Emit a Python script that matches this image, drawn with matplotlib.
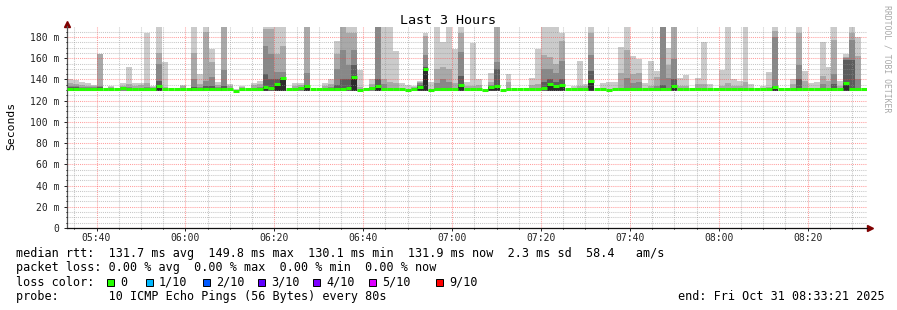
import matplotlib
matplotlib.use("Agg")
import matplotlib.pyplot as plt
from matplotlib.patches import Rectangle
import numpy as np

# one rrd step = 80 s, x axis in minutes after 05:33:21
STEP_MIN = 80 / 60
FIRST_LABEL = 6 + 39 / 60

time_labels = ["05:40", "06:00", "06:20", "06:40", "07:00", "07:20", "07:40", "08:00", "08:20"]
y_values = [0, 20, 40, 60, 80, 100, 120, 140, 160, 180]
y_labels = ["0", "20 m", "40 m", "60 m", "80 m", "100 m", "120 m", "140 m", "160 m", "180 m"]

# median rtt per step (ms)
median = [
    131, 131, 131, 131, 131, 131, 131, 131, 131, 131.5,
    131, 131, 131, 131, 131, 133.5, 131, 131, 131, 131,
    131, 131, 131, 131, 131, 131, 131, 131, 129.5, 131,
    131, 131, 131, 133, 132, 135.5, 141, 131, 131, 131.5,
    133.5, 131, 131, 131, 131, 131, 131, 131.5, 142, 130.5,
    131, 132, 133.5, 131, 131, 131, 131, 130, 131, 133,
    150, 130, 131, 131, 131, 131, 134.5, 131, 131, 131,
    130, 133, 133.5, 130, 131, 131, 131, 131, 131, 131,
    131.5, 136, 133.5, 134.5, 131, 131, 131, 131, 138.5, 131,
    131, 130, 131, 131, 131, 131, 131, 131, 131, 131,
    131, 131, 134, 131, 131, 131, 131, 131, 131, 131,
    131, 131, 131, 131, 131, 131, 131, 131, 131, 133,
    131, 131, 131, 131, 131, 131, 131, 131, 131, 131,
    131, 137, 131, 131, 131,
]

# smoke: top of each shade band (outer / lightest first), 0 = no band
smoke_1 = [
    140, 139.5, 138, 137, 135, 164, 0, 134, 0, 137,
    152, 137, 137, 184, 134, 189, 156, 0, 0, 135,
    0, 189, 145, 189, 169, 138, 189, 136, 131, 134,
    0, 137, 139, 189, 189, 189, 189, 0, 137, 137,
    189, 0, 0, 137, 140, 176, 189, 189, 189, 149,
    0, 140, 189, 189, 189, 167, 137, 135, 134, 139,
    184, 138, 189, 175, 189, 169, 189, 138, 174, 140,
    0, 146, 189, 0, 145, 0, 0, 0, 141, 169,
    189, 189, 189, 184, 0, 134, 157, 136, 189, 0,
    137, 138, 138, 171, 189, 162, 159, 137, 157, 148,
    189, 170, 189, 141, 144, 0, 141, 175, 136, 0,
    149, 189, 140, 139, 189, 136, 0, 134, 147, 189,
    0, 0, 140, 189, 148, 137, 138, 175, 152, 189,
    138.5, 164, 189, 180, 0,
]
smoke_2 = [
    137, 136, 135, 134, 134, 164, 0, 133, 0, 134,
    136, 134, 135, 137, 133, 165, 133, 0, 0, 134,
    0, 165, 136, 185, 156, 135, 189, 134, 130, 133,
    0, 135, 136, 188, 188, 164, 172, 0, 134, 135,
    189, 0, 0, 134, 136, 164, 189, 184, 184, 133,
    0, 136, 189, 140, 138, 137, 0, 0, 133, 138,
    181, 0, 150, 152, 150, 137, 184, 134, 134, 135,
    0, 138, 189, 0, 138, 0, 0, 0, 135, 136,
    163, 161, 155, 176, 0, 0, 134, 134, 184, 0,
    0, 0, 0, 146, 168, 145, 146, 0, 134, 142,
    189, 154, 189, 134, 134, 0, 136, 136, 0, 0,
    134, 137, 134, 134, 138, 0, 0, 0, 133, 186,
    0, 0, 136, 184, 139, 0, 0, 143, 139, 177,
    134, 161, 184, 162, 0,
]
smoke_3 = [
    134, 134, 133, 133, 133, 134, 0, 0, 0, 133,
    133, 0, 0, 133, 132, 155, 0, 0, 0, 0,
    0, 140, 133, 139, 142, 133, 149, 0, 0, 0,
    0, 0, 133, 172, 164, 147, 147, 0, 0, 133,
    146, 0, 0, 0, 133, 150, 168, 154, 168, 0,
    0, 133, 189, 136, 0, 0, 0, 0, 0, 137,
    163, 0, 137, 140, 138, 0, 166, 0, 0, 0,
    0, 135, 156, 0, 0, 0, 0, 0, 0, 0,
    150, 150, 146, 157, 0, 0, 0, 0, 163, 0,
    0, 0, 0, 0, 141, 137, 138, 0, 0, 134,
    189, 141, 159, 0, 0, 0, 0, 0, 0, 0,
    0, 0, 0, 0, 0, 0, 0, 0, 0, 180,
    0, 0, 0, 154, 0, 0, 0, 136, 0, 145,
    0, 160, 177, 140, 0,
]
smoke_4 = [
    133, 133, 0, 0, 0, 133, 0, 0, 0, 0,
    0, 0, 0, 0, 0, 139, 0, 0, 0, 0,
    0, 133, 0, 134, 134, 0, 134, 0, 0, 0,
    0, 0, 0, 145, 140, 140, 141, 0, 0, 0,
    135, 0, 0, 0, 0, 135, 140, 140, 154, 0,
    0, 0, 140, 0, 0, 0, 0, 0, 0, 135,
    152, 0, 0, 0, 0, 0, 143, 0, 0, 0,
    0, 0, 150, 0, 0, 0, 0, 0, 0, 0,
    138, 140, 138, 140, 0, 0, 0, 0, 148, 0,
    0, 0, 0, 0, 0, 0, 0, 0, 0, 0,
    135, 0, 140, 0, 0, 0, 0, 0, 0, 0,
    0, 0, 0, 0, 0, 0, 0, 0, 0, 134,
    0, 0, 0, 140, 0, 0, 0, 0, 0, 136,
    0, 158, 158, 0, 0,
]

stats_lines = [
    "median rtt:  131.7 ms avg  149.8 ms max  130.1 ms min  131.9 ms now  2.3 ms sd  58.4   am/s",
    "packet loss: 0.00 % avg  0.00 % max  0.00 % min  0.00 % now",
]
loss_labels = ["0", "1/10", "2/10", "3/10", "4/10", "5/10", "9/10"]
loss_colors = ["#26ff00", "#00b8ff", "#0059ff", "#5e00ff", "#7e00ff", "#dd00ff", "#ff0000"]
probe_text = "probe:       10 ICMP Echo Pings (56 Bytes) every 80s"
end_text = "end: Fri Oct 31 08:33:21 2025"

W, H = 897, 310
MONO = "DejaVu Sans Mono"
plt.rcParams["font.family"] = MONO

fig = plt.figure(figsize=(W / 100, H / 100), dpi=100)
ax = fig.add_axes([67 / W, 82 / H, 800 / W, 202 / H])

x = np.arange(len(median)) * STEP_MIN
base = 129.5
shades = ["#cbcbcb", "#a9a9a9", "#888888", "#5c5c5c"]
for band, col in zip([smoke_1, smoke_2, smoke_3, smoke_4], shades):
    v = np.array(band, dtype=float)
    h = np.where(v > base, v - base, 0)
    ax.bar(x, h, width=STEP_MIN, bottom=base, align="edge", color=col, linewidth=0, zorder=1)

med = np.array(median, dtype=float)
core = np.where(med >= 133, med - base, 0)
ax.bar(x, core, width=STEP_MIN, bottom=base, align="edge", color="#2b2b2b", linewidth=0, zorder=1.2)
ax.hlines(med, x, x + STEP_MIN, colors=loss_colors[0], linewidth=2.2, zorder=3)

ax.set_xlim(0, 180)
ax.set_ylim(0, 190.4)

major_x = [FIRST_LABEL + 20 * i for i in range(len(time_labels))]
minor_x = [FIRST_LABEL - 5 + 5 * i for i in range(37) if (i - 1) % 4 != 0]
ax.set_xticks(major_x)
ax.set_xticklabels(time_labels)
ax.set_xticks([m for m in minor_x if 0 <= m <= 180], minor=True)
ax.set_yticks(y_values)
ax.set_yticklabels(y_labels)
ax.set_yticks([v for v in range(5, 190, 5) if v % 20], minor=True)

# rrdtool draws its grid over the graph, semi transparent
ax.grid(which="major", color="#ff4040", alpha=0.5, linestyle=(0, (1, 1)), linewidth=0.75)
ax.grid(which="minor", color="#909090", alpha=0.5, linestyle=(0, (1, 1)), linewidth=0.75)
ax.set_axisbelow(False)

ax.tick_params(which="major", length=2.5, width=0.7, labelsize=7, pad=3, colors="#222222")
ax.tick_params(which="minor", length=1.0, width=0.7)
ax.tick_params(axis="x", pad=1)
for s in ["top", "right"]:
    ax.spines[s].set_visible(False)
ax.spines["left"].set_color("#555555")
ax.spines["bottom"].set_color("#111111")
ax.spines["left"].set_linewidth(0.9)
ax.spines["bottom"].set_linewidth(0.9)

# axis arrows
ax.plot([0], [1.012], marker="^", color="#800000", markersize=4.5, transform=ax.transAxes, clip_on=False)
ax.plot([1.004], [0], marker=">", color="#800000", markersize=4.5, transform=ax.transAxes, clip_on=False)

fig.text(448 / W, 1 - 20 / H, "Last 3 Hours", ha="center", va="center", fontsize=9.6)
fig.text(11 / W, 1 - 126 / H, "Seconds", ha="center", va="center", rotation=90, fontsize=8.2)
fig.text(887 / W, 1 - 59 / H, "RRDTOOL / TOBI OETIKER", ha="center", va="center",
         rotation=270, fontsize=5.9, color="#a8a8a8")

fs = 8.5
fig.text(16 / W, 1 - 254 / H, stats_lines[0], ha="left", va="center", fontsize=fs)
fig.text(16 / W, 1 - 268 / H, stats_lines[1], ha="left", va="center", fontsize=fs)
fig.text(16 / W, 1 - 282 / H, "loss color:", ha="left", va="center", fontsize=fs)
swatch_x = [107, 146, 203, 258, 313, 369, 436]
for sx, lab, col in zip(swatch_x, loss_labels, loss_colors):
    fig.add_artist(Rectangle((sx / W, 1 - 285.5 / H), 7 / W, 7 / H, transform=fig.transFigure,
                             facecolor=col, edgecolor="black", linewidth=0.7))
    fig.text((sx + 13) / W, 1 - 282 / H, lab, ha="left", va="center", fontsize=fs)
fig.text(16 / W, 1 - 296.5 / H, probe_text, ha="left", va="center", fontsize=fs)
fig.text(678 / W, 1 - 296.5 / H, end_text, ha="left", va="center", fontsize=fs)

fig.savefig("out.png", dpi=100, facecolor="white")
